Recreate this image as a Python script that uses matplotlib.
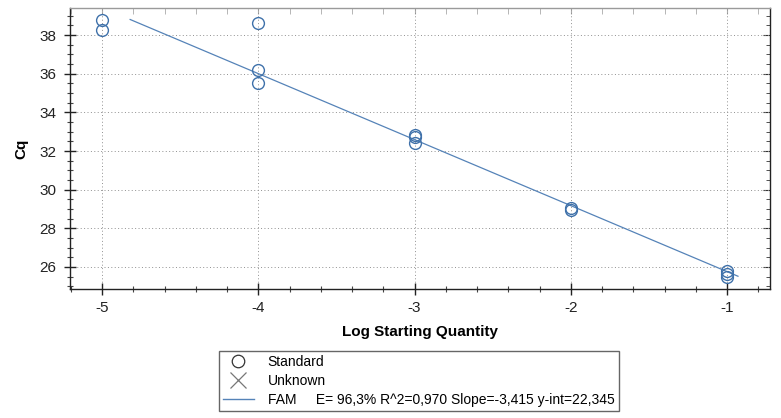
import matplotlib.pyplot as plt
from matplotlib.lines import Line2D
from matplotlib.ticker import MultipleLocator

plt.rcParams['font.family'] = ['Liberation Sans', 'DejaVu Sans']
plt.rcParams['axes.unicode_minus'] = False

# данные стандартов (Log Starting Quantity -> Cq)
std_x = [-5, -5, -4, -4, -4, -3, -3, -3, -2, -2, -1, -1, -1]
std_cq = [38.8, 38.25, 38.62, 36.2, 35.5, 32.85, 32.75, 32.42, 29.05, 28.95, 25.78, 25.62, 25.48]

# линия регрессии
slope = -3.415
yint = 22.345
line_x = [-4.82, -0.93]
line_y = [slope * x + yint for x in line_x]

fam_label = 'FAM     E= 96,3% R^2=0,970 Slope=-3,415 y-int=22,345'

blue = '#3f71aa'
line_blue = '#5583b8'

fig = plt.figure(figsize=(7.81, 4.18), dpi=100)
ax = fig.add_axes([70 / 781, 1 - 289 / 418, 700 / 781, 281 / 418])

ax.plot(line_x, line_y, color=line_blue, lw=0.9, zorder=2)
ax.plot(std_x, std_cq, 'o', mfc='none', mec=blue, ms=8.5, mew=1.0, zorder=3)

ax.set_xlim(-5.205, -0.725)
ax.set_ylim(24.86, 39.4)
ax.xaxis.set_major_locator(MultipleLocator(1))
ax.xaxis.set_minor_locator(MultipleLocator(0.2))
ax.yaxis.set_major_locator(MultipleLocator(2))
ax.yaxis.set_minor_locator(MultipleLocator(0.5))

ax.grid(True, which='major', linestyle=(0, (1, 2.5)), color='#909090', lw=0.7)
ax.set_axisbelow(True)

ax.tick_params(which='major', direction='inout', length=8, width=1.0, labelsize=11, colors='#222222')
ax.tick_params(which='minor', direction='inout', length=5, width=0.8, colors='#444444')
ax.tick_params(axis='x', pad=5)
ax.tick_params(axis='y', pad=6)

for s in ['left', 'bottom', 'right']:
    ax.spines[s].set_color('#222222')
    ax.spines[s].set_linewidth(1.0)
ax.spines['top'].set_color('#9a9a9a')
ax.spines['top'].set_linewidth(1.0)

# тики сверху и справа внутрь
sx = ax.secondary_xaxis('top')
sx.xaxis.set_major_locator(MultipleLocator(1))
sx.xaxis.set_minor_locator(MultipleLocator(0.2))
sx.tick_params(which='both', direction='in', length=4, colors='#aaaaaa', labeltop=False)
sx.spines['top'].set_visible(False)
sy = ax.secondary_yaxis('right')
sy.yaxis.set_major_locator(MultipleLocator(2))
sy.yaxis.set_minor_locator(MultipleLocator(0.5))
sy.tick_params(which='major', direction='in', length=5, colors='#333333', labelright=False)
sy.tick_params(which='minor', direction='in', length=3, colors='#333333')
sy.spines['right'].set_visible(False)

ax.set_xlabel('Log Starting Quantity', fontsize=11, fontweight='bold', labelpad=7)
ax.set_ylabel('Cq', fontsize=11, fontweight='bold', labelpad=8)

handles = [
    Line2D([], [], ls='none', marker='o', mfc='none', mec='#333333', ms=9, mew=0.9),
    Line2D([], [], ls='none', marker='x', color='#777777', ms=11, mew=0.9),
    Line2D([], [], color=line_blue, lw=1.0),
]
labels = ['Standard', 'Unknown', fam_label]
leg = fig.legend(handles, labels, loc='upper left',
                 bbox_to_anchor=(219 / 781, 1 - 409 / 418, 400 / 781, 58 / 418),
                 mode='expand', borderaxespad=0, fontsize=10, fancybox=False,
                 edgecolor='#666666', handlelength=2.2, handletextpad=1.0,
                 labelspacing=0.35, borderpad=0.3, framealpha=1)
leg.get_frame().set_linewidth(1.0)

fig.savefig('out.png', dpi=100)
